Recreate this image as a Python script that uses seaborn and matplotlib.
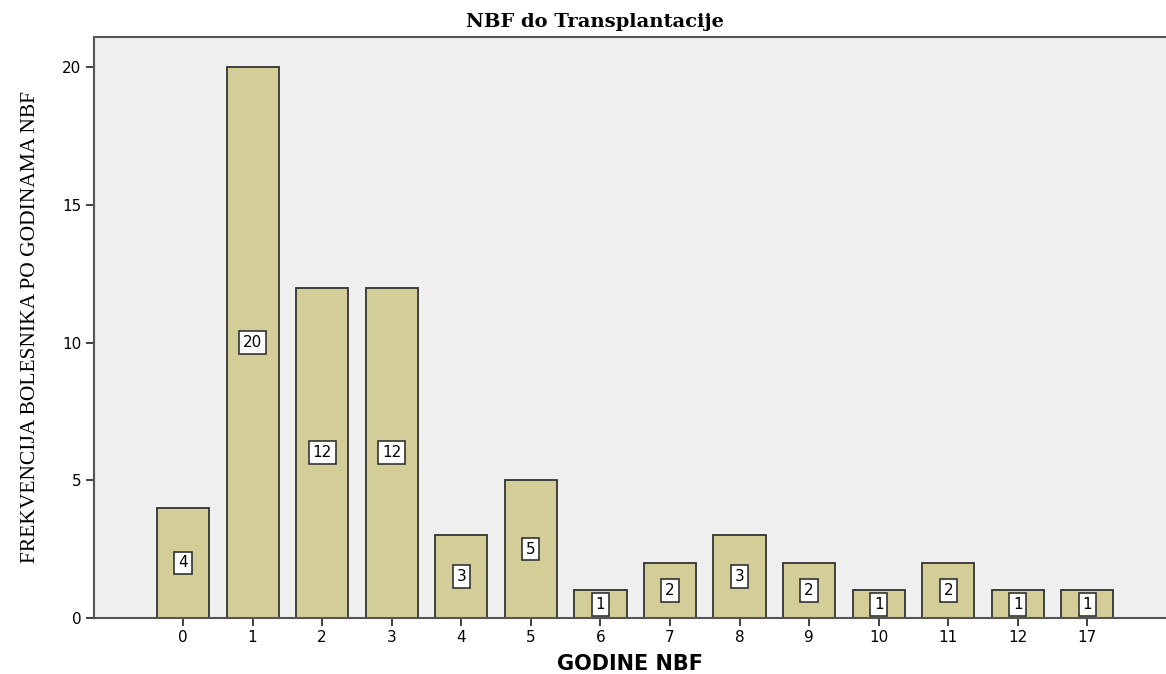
import matplotlib
matplotlib.use("Agg")
import matplotlib.pyplot as plt
import seaborn as sns
import pandas as pd

godine = ["0", "1", "2", "3", "4", "5", "6", "7", "8", "9", "10", "11", "12", "17"]
frekvencija = [4, 20, 12, 12, 3, 5, 1, 2, 3, 2, 1, 2, 1, 1]

df = pd.DataFrame({"godine": godine, "n": frekvencija})

sns.set_style("ticks")
plt.rcParams["text.color"] = "black"
plt.rcParams["axes.labelcolor"] = "black"
plt.rcParams["xtick.labelcolor"] = "black"
plt.rcParams["ytick.labelcolor"] = "black"

fig = plt.figure(figsize=(11.66, 6.74), dpi=100)
ax = fig.add_axes([0.0806, 0.0831, 0.9194, 0.862])
ax.set_facecolor("#efefef")

sns.barplot(data=df, x="godine", y="n", order=godine, color="#d3ce97",
            saturation=1, width=0.75, edgecolor="#333333", linewidth=1.3, ax=ax)

# value labels in white boxes at half bar height
for i, v in enumerate(frekvencija):
    ax.text(i, v / 2, str(v), ha="center", va="center", fontsize=11,
            family="DejaVu Sans", color="black",
            bbox=dict(boxstyle="square,pad=0.25", fc="white", ec="#333333", lw=1.2))

ax.set_xlim(-1.28, 14.13)
ax.set_ylim(0, 21.1)
ax.set_yticks([0, 5, 10, 15, 20])
ax.tick_params(axis="both", direction="out", length=6, width=1.3,
               color="#333333", labelsize=11, pad=3)
for s in ["left", "top", "bottom"]:
    ax.spines[s].set_color("#555555")
    ax.spines[s].set_linewidth(1.5)
    ax.spines[s].set_visible(True)
ax.spines["right"].set_visible(False)

ax.set_xlabel("GODINE NBF", fontsize=15, fontweight="bold",
              family="DejaVu Sans", labelpad=6)
ax.set_ylabel("FREKVENCIJA BOLESNIKA PO GODINAMA NBF", fontsize=15.5,
              family="Liberation Serif", labelpad=16)
fig.text(0.51, 0.968, "NBF do Transplantacije", ha="center", va="center",
         fontsize=14, fontweight="bold", family="DejaVu Serif")

fig.savefig("out.png", dpi=100)
